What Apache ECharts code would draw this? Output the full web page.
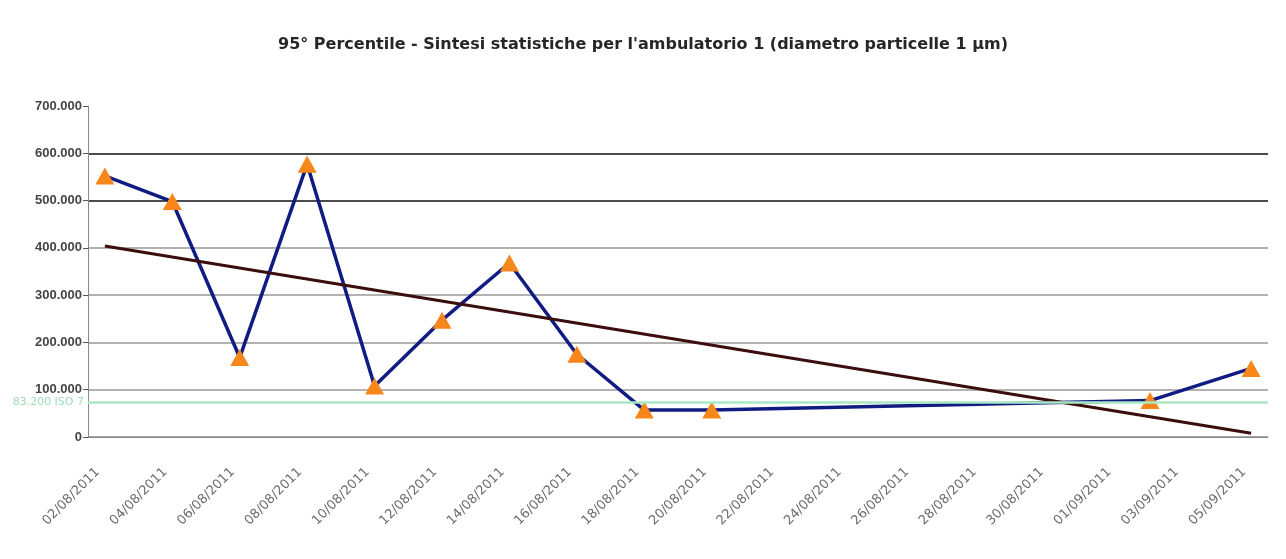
<!DOCTYPE html>
<html>
<head>
<meta charset="utf-8">
<script src="https://cdn.jsdelivr.net/npm/echarts@6/dist/echarts.min.js"></script>
<style>
  html, body { margin: 0; padding: 0; background: #fff; }
  #chart { width: 1286px; height: 559px; }
</style>
</head>
<body>
<div id="chart"></div>
<script>
// every day on the date axis, 02/08 .. 05/09
const days = [
  "02/08/2011", "03/08/2011", "04/08/2011", "05/08/2011", "06/08/2011", "07/08/2011",
  "08/08/2011", "09/08/2011", "10/08/2011", "11/08/2011", "12/08/2011", "13/08/2011",
  "14/08/2011", "15/08/2011", "16/08/2011", "17/08/2011", "18/08/2011", "19/08/2011",
  "20/08/2011", "21/08/2011", "22/08/2011", "23/08/2011", "24/08/2011", "25/08/2011",
  "26/08/2011", "27/08/2011", "28/08/2011", "29/08/2011", "30/08/2011", "31/08/2011",
  "01/09/2011", "02/09/2011", "03/09/2011", "04/09/2011", "05/09/2011"
];

// measured days and 95th percentile values
const pointDates = [
  "02/08/2011", "04/08/2011", "06/08/2011", "08/08/2011", "10/08/2011", "12/08/2011",
  "14/08/2011", "16/08/2011", "18/08/2011", "20/08/2011", "02/09/2011", "05/09/2011"
];
const pointValues = [552000, 498000, 168000, 577000, 108000, 247000, 368000, 175000, 57000, 57000, 77000, 145000];

// linear trend (ends)
const trendDates = ["02/08/2011", "05/09/2011"];
const trendValues = [404000, 8000];

// ISO 7 reference line (position as drawn in the picture) and its label
const isoLine = 74000;
const isoLabel = "83.200 ISO 7";

const yTicks = [0, 100000, 200000, 300000, 400000, 500000, 600000, 700000];

const pair = (d, v) => d.map((x, i) => [x, v[i]]);
const itFormat = v => (v === 0 ? "0" : String(v).replace(/\B(?=(\d{3})+(?!\d))/g, "."));

const chart = echarts.init(document.getElementById("chart"));

const option = {
  animation: false,
  backgroundColor: "#fff",
  title: {
    text: "95° Percentile - Sintesi statistiche per l'ambulatorio 1 (diametro particelle 1 µm)",
    left: "center",
    top: 32,
    textStyle: {
      fontFamily: "DejaVu Sans",
      fontSize: 16,
      fontWeight: "bold",
      color: "#262626"
    }
  },
  grid: {
    left: 88,
    right: 18,
    top: 106,
    bottom: 122,
    containLabel: false
  },
  xAxis: {
    type: "category",
    data: days,
    boundaryGap: true,
    axisLine: { lineStyle: { color: "#888", width: 1 } },
    axisTick: { interval: 1, length: 5, lineStyle: { color: "#555" } },
    axisLabel: {
      interval: 1,
      rotate: 45,
      margin: 26,
      padding: [0, 10, 0, 0],
      fontFamily: "DejaVu Sans",
      fontSize: 13,
      color: "#6a6a6a"
    },
    splitLine: { show: false }
  },
  yAxis: {
    type: "value",
    min: yTicks[0],
    max: yTicks[yTicks.length - 1],
    interval: 100000,
    axisLine: { show: true, lineStyle: { color: "#888" } },
    axisTick: { show: true, length: 5, lineStyle: { color: "#555" } },
    axisLabel: {
      margin: 6,
      fontFamily: "Liberation Sans",
      fontSize: 13,
      fontWeight: "bold",
      color: "#444",
      formatter: itFormat
    },
    splitLine: {
      show: true,
      lineStyle: {
        width: 1.5,
        color: ["#888", "#999", "#999", "#999", "#999", "#111", "#111", "rgba(0,0,0,0)"]
      }
    }
  },
  series: [
    {
      name: "ISO 7",
      type: "line",
      data: [],
      markLine: {
        silent: true,
        symbol: "none",
        lineStyle: { color: "#a8e8c4", width: 2.5, type: "solid" },
        label: {
          position: "start",
          formatter: isoLabel,
          color: "#9fdcb8",
          fontSize: 11,
          fontFamily: "DejaVu Sans",
          distance: 4
        },
        data: [{ yAxis: isoLine }]
      },
      z: 1
    },
    {
      name: "95° Percentile",
      type: "line",
      data: pair(pointDates, pointValues),
      connectNulls: true,
      showSymbol: false,
      lineStyle: { color: "#111c82", width: 3.5 },
      z: 2
    },
    {
      name: "Tendenza",
      type: "line",
      data: pair(trendDates, trendValues),
      showSymbol: false,
      lineStyle: { color: "#3c0d0d", width: 3 },
      z: 3
    },
    {
      name: "markers",
      type: "scatter",
      data: pair(pointDates, pointValues),
      symbol: "triangle",
      symbolSize: [19, 17],
      itemStyle: { color: "#f7861b", opacity: 1 },
      z: 4
    }
  ]
};

chart.setOption(option);
window.addEventListener("resize", () => chart.resize());
</script>
</body>
</html>
